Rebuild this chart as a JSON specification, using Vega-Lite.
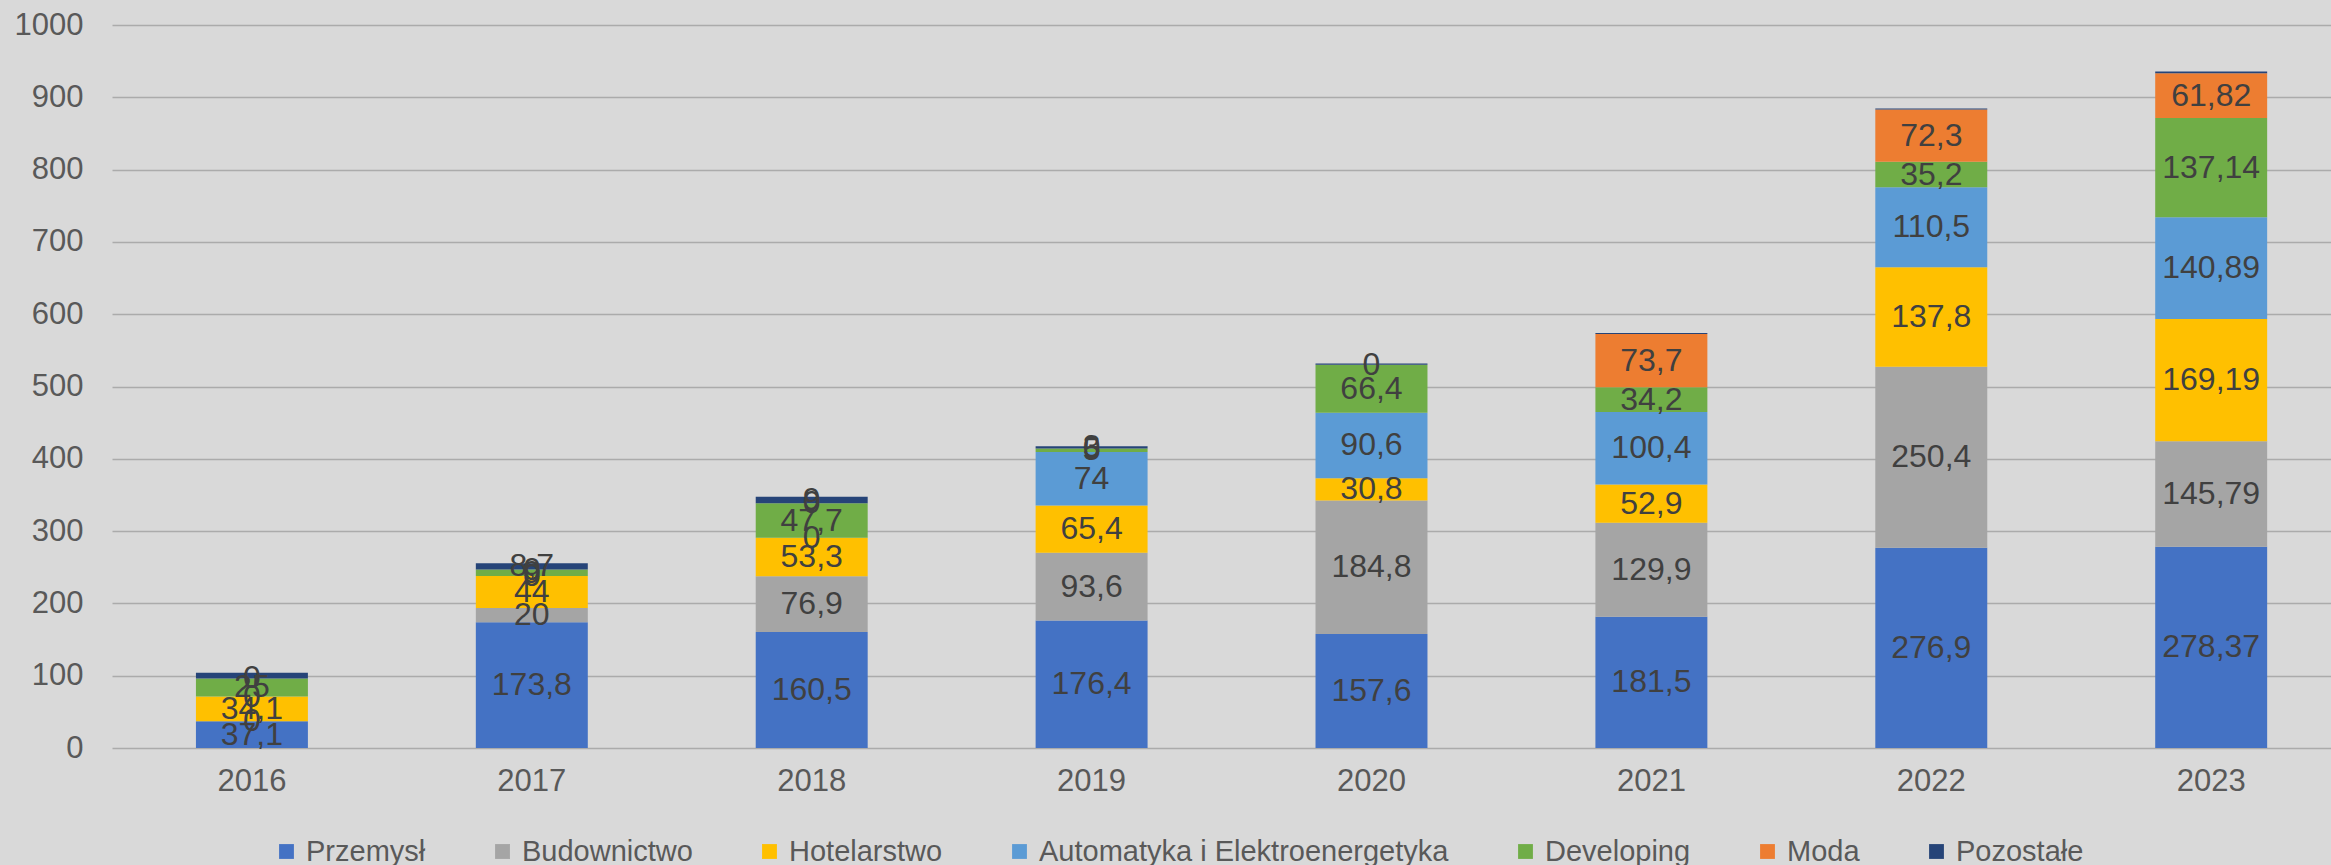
{
  "$schema": "https://vega.github.io/schema/vega-lite/v6.json",
  "width": 2219,
  "height": 723,
  "autosize": {"type": "none"},
  "padding": {"left": 112, "top": 25, "right": 0, "bottom": 117},
  "background": "#d9d9d9",
  "config": {"view": {"stroke": null}, "font": "Liberation Sans"},
  "data": {"values": [
    {"year": "2016", "series": "Przemysł", "idx": 1, "value": 37.1, "label": "37,1"},
    {"year": "2016", "series": "Budownictwo", "idx": 2, "value": 0, "label": "0"},
    {"year": "2016", "series": "Hotelarstwo", "idx": 3, "value": 34.1, "label": "34,1"},
    {"year": "2016", "series": "Automatyka i Elektroenergetyka", "idx": 4, "value": 0, "label": "0"},
    {"year": "2016", "series": "Developing", "idx": 5, "value": 25, "label": "25"},
    {"year": "2016", "series": "Moda", "idx": 6, "value": 0, "label": "0"},
    {"year": "2016", "series": "Pozostałe", "idx": 7, "value": 8, "label": ""},
    {"year": "2017", "series": "Przemysł", "idx": 1, "value": 173.8, "label": "173,8"},
    {"year": "2017", "series": "Budownictwo", "idx": 2, "value": 20, "label": "20"},
    {"year": "2017", "series": "Hotelarstwo", "idx": 3, "value": 44, "label": "44"},
    {"year": "2017", "series": "Automatyka i Elektroenergetyka", "idx": 4, "value": 0, "label": "0"},
    {"year": "2017", "series": "Developing", "idx": 5, "value": 9, "label": "9"},
    {"year": "2017", "series": "Moda", "idx": 6, "value": 0, "label": "0"},
    {"year": "2017", "series": "Pozostałe", "idx": 7, "value": 8.7, "label": "8,7"},
    {"year": "2018", "series": "Przemysł", "idx": 1, "value": 160.5, "label": "160,5"},
    {"year": "2018", "series": "Budownictwo", "idx": 2, "value": 76.9, "label": "76,9"},
    {"year": "2018", "series": "Hotelarstwo", "idx": 3, "value": 53.3, "label": "53,3"},
    {"year": "2018", "series": "Automatyka i Elektroenergetyka", "idx": 4, "value": 0, "label": "0"},
    {"year": "2018", "series": "Developing", "idx": 5, "value": 47.7, "label": "47,7"},
    {"year": "2018", "series": "Moda", "idx": 6, "value": 0, "label": "0"},
    {"year": "2018", "series": "Pozostałe", "idx": 7, "value": 9, "label": "9"},
    {"year": "2019", "series": "Przemysł", "idx": 1, "value": 176.4, "label": "176,4"},
    {"year": "2019", "series": "Budownictwo", "idx": 2, "value": 93.6, "label": "93,6"},
    {"year": "2019", "series": "Hotelarstwo", "idx": 3, "value": 65.4, "label": "65,4"},
    {"year": "2019", "series": "Automatyka i Elektroenergetyka", "idx": 4, "value": 74, "label": "74"},
    {"year": "2019", "series": "Developing", "idx": 5, "value": 5, "label": "5"},
    {"year": "2019", "series": "Moda", "idx": 6, "value": 0, "label": "0"},
    {"year": "2019", "series": "Pozostałe", "idx": 7, "value": 3, "label": "3"},
    {"year": "2020", "series": "Przemysł", "idx": 1, "value": 157.6, "label": "157,6"},
    {"year": "2020", "series": "Budownictwo", "idx": 2, "value": 184.8, "label": "184,8"},
    {"year": "2020", "series": "Hotelarstwo", "idx": 3, "value": 30.8, "label": "30,8"},
    {"year": "2020", "series": "Automatyka i Elektroenergetyka", "idx": 4, "value": 90.6, "label": "90,6"},
    {"year": "2020", "series": "Developing", "idx": 5, "value": 66.4, "label": "66,4"},
    {"year": "2020", "series": "Moda", "idx": 6, "value": 0, "label": "0"},
    {"year": "2020", "series": "Pozostałe", "idx": 7, "value": 1.5, "label": ""},
    {"year": "2021", "series": "Przemysł", "idx": 1, "value": 181.5, "label": "181,5"},
    {"year": "2021", "series": "Budownictwo", "idx": 2, "value": 129.9, "label": "129,9"},
    {"year": "2021", "series": "Hotelarstwo", "idx": 3, "value": 52.9, "label": "52,9"},
    {"year": "2021", "series": "Automatyka i Elektroenergetyka", "idx": 4, "value": 100.4, "label": "100,4"},
    {"year": "2021", "series": "Developing", "idx": 5, "value": 34.2, "label": "34,2"},
    {"year": "2021", "series": "Moda", "idx": 6, "value": 73.7, "label": "73,7"},
    {"year": "2021", "series": "Pozostałe", "idx": 7, "value": 1.5, "label": ""},
    {"year": "2022", "series": "Przemysł", "idx": 1, "value": 276.9, "label": "276,9"},
    {"year": "2022", "series": "Budownictwo", "idx": 2, "value": 250.4, "label": "250,4"},
    {"year": "2022", "series": "Hotelarstwo", "idx": 3, "value": 137.8, "label": "137,8"},
    {"year": "2022", "series": "Automatyka i Elektroenergetyka", "idx": 4, "value": 110.5, "label": "110,5"},
    {"year": "2022", "series": "Developing", "idx": 5, "value": 35.2, "label": "35,2"},
    {"year": "2022", "series": "Moda", "idx": 6, "value": 72.3, "label": "72,3"},
    {"year": "2022", "series": "Pozostałe", "idx": 7, "value": 1.5, "label": ""},
    {"year": "2023", "series": "Przemysł", "idx": 1, "value": 278.37, "label": "278,37"},
    {"year": "2023", "series": "Budownictwo", "idx": 2, "value": 145.79, "label": "145,79"},
    {"year": "2023", "series": "Hotelarstwo", "idx": 3, "value": 169.19, "label": "169,19"},
    {"year": "2023", "series": "Automatyka i Elektroenergetyka", "idx": 4, "value": 140.89, "label": "140,89"},
    {"year": "2023", "series": "Developing", "idx": 5, "value": 137.14, "label": "137,14"},
    {"year": "2023", "series": "Moda", "idx": 6, "value": 61.82, "label": "61,82"},
    {"year": "2023", "series": "Pozostałe", "idx": 7, "value": 2.5, "label": ""}
  ]},
  "encoding": {
    "x": {
      "field": "year", "type": "nominal",
      "scale": {"paddingInner": 0.6, "paddingOuter": 0.264, "align": 0.568},
      "axis": {"title": null, "labelAngle": 0, "labelFontSize": 31, "labelColor": "#595959", "labelPadding": 18, "ticks": false, "domain": false, "grid": false}
    }
  },
  "layer": [
    {
      "mark": {"type": "bar"},
      "encoding": {
        "y": {
          "field": "value", "type": "quantitative", "stack": "zero",
          "scale": {"domain": [0, 1000], "nice": false},
          "axis": {"title": null, "format": "d", "values": [0,100,200,300,400,500,600,700,800,900,1000], "labelFontSize": 31, "labelColor": "#595959", "labelPadding": 29, "ticks": false, "domain": false, "gridColor": "#ababab", "gridWidth": 1.5}
        },
        "color": {
          "field": "series", "type": "nominal",
          "scale": {
            "domain": ["Przemysł", "Budownictwo", "Hotelarstwo", "Automatyka i Elektroenergetyka", "Developing", "Moda", "Pozostałe"],
            "range": ["#4472C4", "#A5A5A5", "#FFC000", "#5B9BD5", "#70AD47", "#ED7D31", "#264478"]
          },
          "legend": {
            "title": null, "orient": "none", "legendX": 160, "legendY": 812, "direction": "horizontal", "columns": 7,
            "symbolType": "square", "symbolSize": 220, "symbolStrokeWidth": 0, "labelFontSize": 29, "labelColor": "#595959",
            "labelOffset": 5, "labelLimit": 1000, "columnPadding": 62, "gridAlign": "none", "padding": 0
          }
        },
        "order": {"field": "idx"}
      }
    },
    {
      "mark": {"type": "text", "fontSize": 32, "color": "#404040"},
      "encoding": {
        "y": {"field": "value", "type": "quantitative", "stack": "zero", "bandPosition": 0.5},
        "detail": {"field": "series"},
        "order": {"field": "idx"},
        "text": {"field": "label"}
      }
    }
  ]
}
